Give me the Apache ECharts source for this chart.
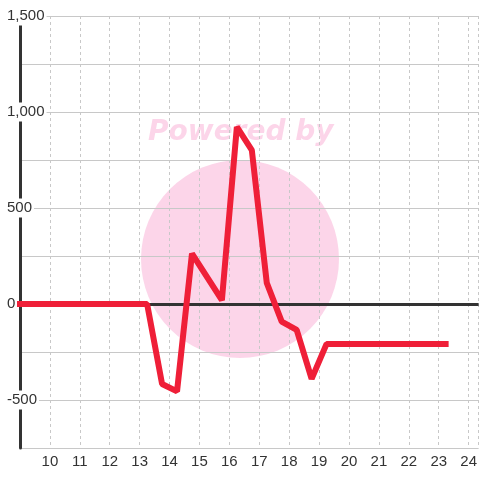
<!doctype html>
<html>
    <head>
        <meta charset="utf-8">
        <title>Line</title>
        <style>
            html, body { margin: 0; padding: 0; background: #fff; }
            #main { width: 480px; height: 480px; }
        </style>
    </head>
    <body>
        <div id="main"></div>
        <script src="https://cdn.jsdelivr.net/npm/echarts@6/dist/echarts.min.js"></script>
        <script>
            var xValues = [8.75, 9.25, 9.75, 10.25, 10.75, 11.25, 11.75, 12.25, 12.75, 13.25,
                13.75, 14.25, 14.75, 15.75, 16.25, 16.75, 17.25, 17.75, 18.25, 18.75,
                19.25, 19.75, 20.25, 20.75, 21.25, 21.75, 22.25, 22.75, 23.33];
            var yValues = [0, 0, 0, 0, 0, 0, 0, 0, 0, 0,
                -417, -455, 262, 20, 922, 802, 110, -92, -135, -390,
                -208, -208, -208, -208, -208, -208, -208, -208, -208];
            var yLabels = [1500, 1000, 500, 0, -500];

            var chart = echarts.init(document.getElementById('main'));

            var points = xValues.map(function (x, i) { return [x, yValues[i]]; });

            chart.setOption({
                animation: false,
                grid: { left: 20, right: 0, top: 16, bottom: 32 },
                graphic: [
                    {
                        type: 'circle',
                        z: -10,
                        shape: { cx: 240, cy: 259, r: 99 },
                        style: { fill: 'rgba(247,150,200,0.4)' }
                    },
                    {
                        type: 'text',
                        z: -10,
                        left: 148,
                        top: 119,
                        style: {
                            text: 'Powered by',
                            fill: 'rgba(247,150,200,0.4)',
                            font: 'italic bold 28px "DejaVu Sans"'
                        }
                    }
                ],
                xAxis: {
                    type: 'value',
                    min: 9,
                    max: 24.3333,
                    interval: 1,
                    axisLine: { show: false },
                    axisTick: { show: false },
                    axisLabel: {
                        color: '#333',
                        fontSize: 15,
                        fontFamily: 'Liberation Sans',
                        margin: 6,
                        showMinLabel: false,
                        showMaxLabel: false,
                        formatter: function (v) {
                            return Number.isInteger(v) && v >= 10 ? String(v) : '';
                        }
                    },
                    splitLine: {
                        show: true,
                        lineStyle: { color: '#c8c8c8', type: [3, 3], width: 1 }
                    }
                },
                yAxis: {
                    type: 'value',
                    min: -750,
                    max: 1500,
                    interval: 250,
                    axisLine: { show: true, lineStyle: { color: '#333', width: 3 } },
                    axisTick: { show: false },
                    axisLabel: {
                        color: '#333',
                        fontSize: 15,
                        fontFamily: 'Liberation Sans',
                        align: 'left',
                        margin: 13,
                        backgroundColor: '#fff',
                        padding: [3, 2, 1, 0],
                        formatter: function (v) {
                            if (yLabels.indexOf(v) < 0) return '';
                            return v.toLocaleString('en-US');
                        }
                    },
                    splitLine: { lineStyle: { color: '#c8c8c8', width: 1 } }
                },
                series: [{
                    type: 'line',
                    data: points,
                    symbol: 'none',
                    clip: true,
                    lineStyle: { color: '#ef1f38', width: 6 },
                    markLine: {
                        silent: true,
                        symbol: 'none',
                        label: { show: false },
                        z: 1,
                        lineStyle: { color: '#333', width: 3, type: 'solid' },
                        data: [{ yAxis: 0 }]
                    }
                }]
            });
        </script>
    </body>
</html>
